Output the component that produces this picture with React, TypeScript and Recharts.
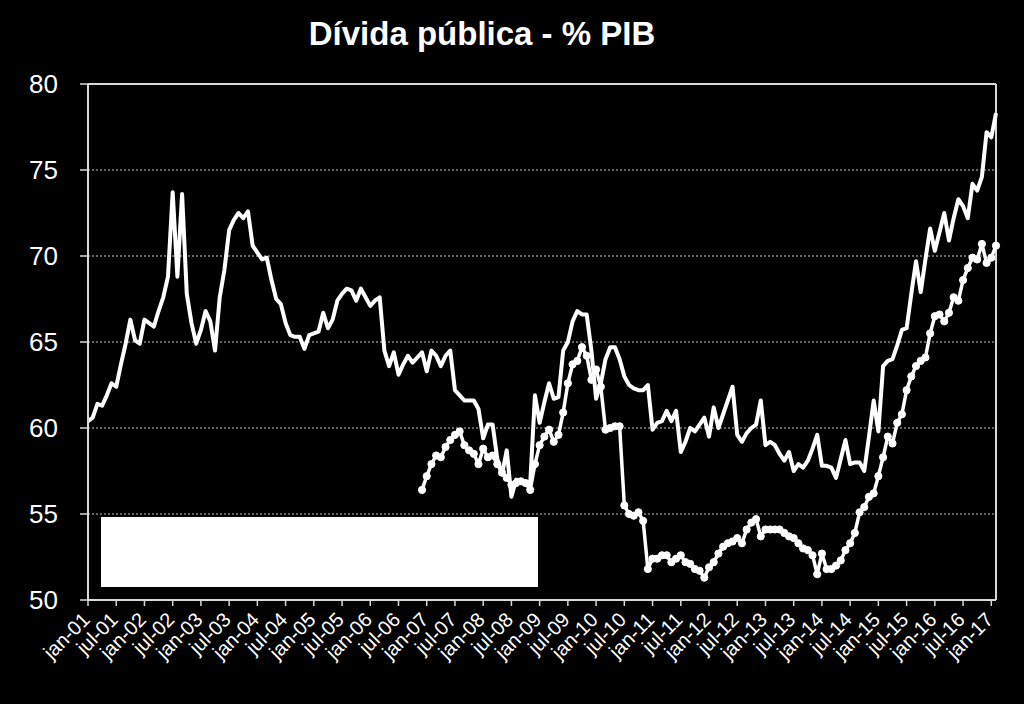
import React from "react";
import { LineChart, Line, XAxis, YAxis, CartesianGrid, ReferenceLine, Legend } from "recharts";

const monthNames = ["jan", "fev", "mar", "abr", "mai", "jun", "jul", "ago", "set", "out", "nov", "dez"];
const years = ["01", "02", "03", "04", "05", "06", "07", "08", "09", "10", "11", "12", "13", "14", "15", "16", "17"];
const categories: string[] = [];
years.forEach((yy) => monthNames.forEach((m) => categories.push(`${m}-${yy}`)));
categories.splice(194); // jan-01 .. fev-17

const yTicks = [50, 55, 60, 65, 70, 75, 80];

// Série sem marcadores (jan-01 .. fev-17)
const seriesA = [
  60.4, 60.6, 61.4, 61.3, 61.9, 62.6, 62.4, 63.7, 64.9, 66.3, 65.1, 64.9,
  66.3, 66.1, 65.9, 66.8, 67.6, 68.8, 73.7, 68.8, 73.6, 67.8, 66.1, 64.9,
  65.7, 66.8, 66.2, 64.5, 67.6, 69.2, 71.5, 72.1, 72.5, 72.2, 72.6, 70.6,
  70.2, 69.8, 69.9, 68.6, 67.5, 67.2, 66.1, 65.4, 65.3, 65.3, 64.6, 65.4,
  65.5, 65.6, 66.7, 65.8, 66.3, 67.4, 67.8, 68.1, 68.0, 67.4, 68.1, 67.6,
  67.1, 67.4, 67.6, 64.5, 63.6, 64.4, 63.1, 63.7, 64.2, 63.8, 64.1, 64.4,
  63.3, 64.5, 64.2, 63.6, 64.2, 64.5, 62.2, 61.9, 61.6, 61.6, 61.6, 61.1,
  59.4, 60.2, 60.2, 58.2, 57.3, 58.7, 56.0, 57.0, 56.9, 56.9, 56.8, 61.9,
  60.3, 61.5, 62.6, 61.7, 61.8, 64.5, 65.0, 66.2, 66.8, 66.6, 66.6, 64.5,
  61.7, 62.6, 64.0, 64.7, 64.7, 64.0, 63.0, 62.5, 62.3, 62.2, 62.2, 62.5,
  59.9, 60.3, 60.4, 61.0, 60.4, 61.0, 58.6, 59.2, 60.0, 59.8, 60.2, 60.6,
  59.5, 61.2, 60.0, 60.8, 61.6, 62.4, 59.6, 59.2, 59.7, 60.0, 60.2, 61.6,
  59.0, 59.2, 59.0, 58.5, 58.1, 58.6, 57.5, 57.9, 57.7, 58.1, 58.8, 59.6,
  57.8, 57.8, 57.7, 57.1, 58.2, 59.3, 57.9, 58.0, 58.0, 57.5, 59.5, 61.6,
  59.8, 63.6, 63.9, 64.0, 64.8, 65.7, 65.8, 67.8, 69.7, 67.9, 69.8, 71.6,
  70.3, 71.4, 72.5, 70.9, 72.2, 73.3, 72.9, 72.2, 74.2, 73.8, 74.6, 77.2,
  76.9, 78.3,
];

// Série com marcadores (dez-06 .. fev-17)
const seriesBStart = "dez-06";
const seriesB = [
  56.4, 57.2, 57.9, 58.4, 58.3, 58.9, 59.3, 59.6, 59.8, 59.0, 58.7, 58.5,
  57.9, 58.8, 58.3, 58.4, 57.9, 57.4, 57.1, 56.7, 56.8, 56.9, 56.8, 56.4,
  57.9, 59.0, 59.5, 59.9, 59.2, 59.6, 60.9, 62.6, 63.7, 63.9, 64.7, 64.2,
  62.8, 63.4, 62.4, 59.9, 60.0, 60.1, 60.1, 55.5, 55.0, 54.9, 55.1, 54.6,
  51.8, 52.4, 52.4, 52.6, 52.6, 52.2, 52.4, 52.6, 52.2, 52.1, 51.8, 51.7,
  51.3, 51.9, 52.2, 52.7, 53.1, 53.3, 53.4, 53.6, 53.3, 54.1, 54.5, 54.7,
  53.7, 54.1, 54.1, 54.1, 54.1, 53.9, 53.7, 53.6, 53.3, 53.0, 52.9, 52.6,
  51.5, 52.7, 51.8, 51.8, 52.0, 52.3, 52.9, 53.3, 53.9, 55.1, 55.4, 56.0,
  56.2, 57.2, 58.3, 59.5, 59.1, 60.3, 60.8, 62.2, 63.0, 63.6, 63.9, 64.1,
  65.5, 66.5, 66.6, 66.2, 66.7, 67.6, 67.4, 68.6, 69.3, 69.9, 69.8, 70.7,
  69.6, 69.9, 70.6,
];

const bOffset = categories.indexOf(seriesBStart);
const data = categories.map((month, i) => ({
  month,
  a: seriesA[i],
  b: i >= bOffset ? seriesB[i - bOffset] : null,
}));

const FONT = "'Liberation Sans', Arial, sans-serif";
const AXIS = "#d9d9d9";

const XTick = (props: any) => {
  const { x, y, payload } = props;
  return (
    <g transform={`translate(${x + 3},${y + 13})`}>
      <text textAnchor="end" transform="rotate(-45)" fill="#fff" fontSize={20} fontFamily={FONT}>
        {payload.value}
      </text>
    </g>
  );
};

const BlankLegend = () => <div style={{ width: 437, height: 70, background: "#fff" }} />;

export default function App() {
  return (
    <div style={{ position: "fixed", left: 0, top: 0, width: 1024, height: 704, background: "#000", overflow: "hidden" }}>
      <div
        style={{
          position: "absolute",
          left: 0,
          top: 15,
          width: 964,
          textAlign: "center",
          color: "#fff",
          fontFamily: FONT,
          fontWeight: "bold",
          fontSize: 33,
          lineHeight: "37px",
          zIndex: 2,
        }}
      >
        Dívida pública - % PIB
      </div>
      <LineChart width={1024} height={704} data={data} margin={{ top: 84, right: 28, left: 0, bottom: 14 }}>
        <CartesianGrid horizontal vertical={false} stroke="#c8c8c8" strokeDasharray="2 2" strokeWidth={1} />
        <XAxis
          dataKey="month"
          interval={5}
          height={90}
          tick={<XTick />}
          tickSize={6}
          tickLine={{ stroke: AXIS, strokeWidth: 1.5 }}
          axisLine={{ stroke: AXIS, strokeWidth: 2 }}
        />
        <YAxis
          domain={[50, 80]}
          ticks={yTicks}
          width={88}
          tickSize={8}
          tickMargin={22}
          tick={{ fill: "#fff", fontSize: 26, fontFamily: FONT }}
          tickLine={{ stroke: AXIS, strokeWidth: 1.5 }}
          axisLine={{ stroke: AXIS, strokeWidth: 2 }}
          allowDataOverflow
        />
        <ReferenceLine y={80} stroke={AXIS} strokeWidth={2} />
        <ReferenceLine x={categories[categories.length - 1]} stroke={AXIS} strokeWidth={2} />
        <Legend
          layout="vertical"
          align="center"
          verticalAlign="middle"
          content={<BlankLegend />}
          wrapperStyle={{ position: "absolute", left: 101, top: 517, width: 437, height: 70, margin: 0 }}
        />
        <Line
          type="linear"
          dataKey="a"
          stroke="#fff"
          strokeWidth={4}
          strokeLinejoin="round"
          dot={false}
          activeDot={false}
          isAnimationActive={false}
        />
        <Line
          type="linear"
          dataKey="b"
          stroke="#fff"
          strokeWidth={3.5}
          strokeLinejoin="round"
          dot={{ r: 3.6, fill: "#fff", stroke: "#fff", strokeWidth: 1 }}
          activeDot={false}
          isAnimationActive={false}
        />
      </LineChart>
    </div>
  );
}
